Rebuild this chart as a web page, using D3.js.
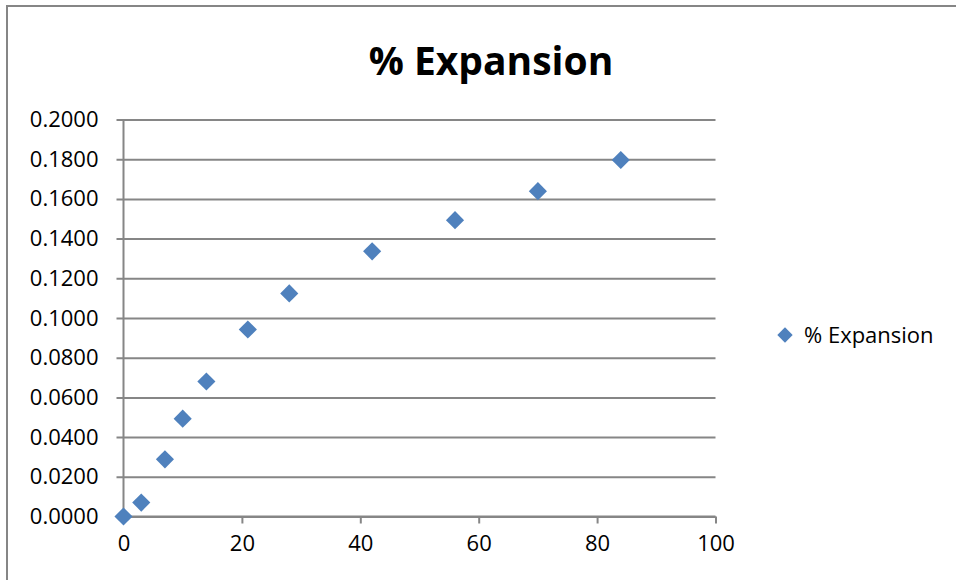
<!DOCTYPE html>
<html>
<head>
<meta charset="utf-8">
<script src="https://cdn.jsdelivr.net/npm/d3@7"></script>
<style>
  body { margin: 0; background: #fff; }
  text { font-family: "Open Sans", "Noto Sans", sans-serif; fill: #000; }
</style>
</head>
<body>
<div id="chart"></div>
<script>
// days vs % expansion
const days = [0, 3, 7, 10, 14, 21, 28, 42, 56, 70, 84];
const expansion = [0.0000, 0.0070, 0.0288, 0.0493, 0.0680, 0.0942, 0.1124, 0.1336, 0.1493, 0.1639, 0.1796];
const xTicks = [0, 20, 40, 60, 80, 100];
const yTicks = [0, 0.02, 0.04, 0.06, 0.08, 0.10, 0.12, 0.14, 0.16, 0.18, 0.20];
const seriesName = "% Expansion";

const width = 956, height = 580;
const grey = "#868686";
const blue = "#4F81BD";

const svg = d3.select("#chart")
    .append("svg")
    .attr("width", width)
    .attr("height", height);

// chart frame
svg.append("rect")
    .attr("x", 7).attr("y", 6)
    .attr("width", 1000).attr("height", 700)
    .attr("fill", "none")
    .attr("stroke", grey)
    .attr("stroke-width", 2);

const x = d3.scaleLinear().domain([0, 100]).range([123.5, 715.5]);
const y = d3.scaleLinear().domain([0, 0.2]).range([516.5, 119.5]);

// gridlines + y axis
const yAxis = svg.append("g")
    .attr("transform", `translate(${x(0)},0)`)
    .call(d3.axisLeft(y).tickValues(yTicks).tickFormat(d3.format(".4f"))
        .tickSize(7).tickPadding(18));
yAxis.select(".domain").attr("stroke", grey).attr("stroke-width", 2)
    .attr("d", `M0,${y(0)}V${y(0.2)}`);
yAxis.selectAll(".tick line").attr("stroke", grey).attr("stroke-width", 2)
    .attr("x1", -7).attr("x2", x(100) - x(0));
yAxis.selectAll(".tick text").style("font-size", "22px");

const xAxis = svg.append("g")
    .attr("transform", `translate(0,${y(0)})`)
    .call(d3.axisBottom(x).tickValues(xTicks).tickFormat(d3.format("d"))
        .tickSize(7).tickPadding(12));
xAxis.select(".domain").attr("stroke", grey).attr("stroke-width", 2)
    .attr("d", `M${x(0)},0H${x(100)}`);
xAxis.selectAll(".tick line").attr("stroke", grey).attr("stroke-width", 2);
xAxis.selectAll(".tick text").style("font-size", "22px");

// points
const diamond = d3.symbol().type(d3.symbolDiamond2).size(210);
svg.append("g")
    .selectAll("path")
    .data(days.map((d, i) => ({ day: d, v: expansion[i] })))
    .enter().append("path")
    .attr("d", diamond)
    .attr("transform", d => `translate(${x(d.day)},${y(d.v)})`)
    .attr("fill", blue);

// title
svg.append("text")
    .attr("x", 491).attr("y", 75)
    .attr("text-anchor", "middle")
    .style("font-size", "39px")
    .style("font-weight", "bold")
    .text(seriesName);

// legend
svg.append("path")
    .attr("d", d3.symbol().type(d3.symbolDiamond2).size(150))
    .attr("transform", "translate(785,335)")
    .attr("fill", blue);
svg.append("text")
    .attr("x", 804).attr("y", 343)
    .style("font-size", "22px")
    .text(seriesName);
</script>
</body>
</html>
